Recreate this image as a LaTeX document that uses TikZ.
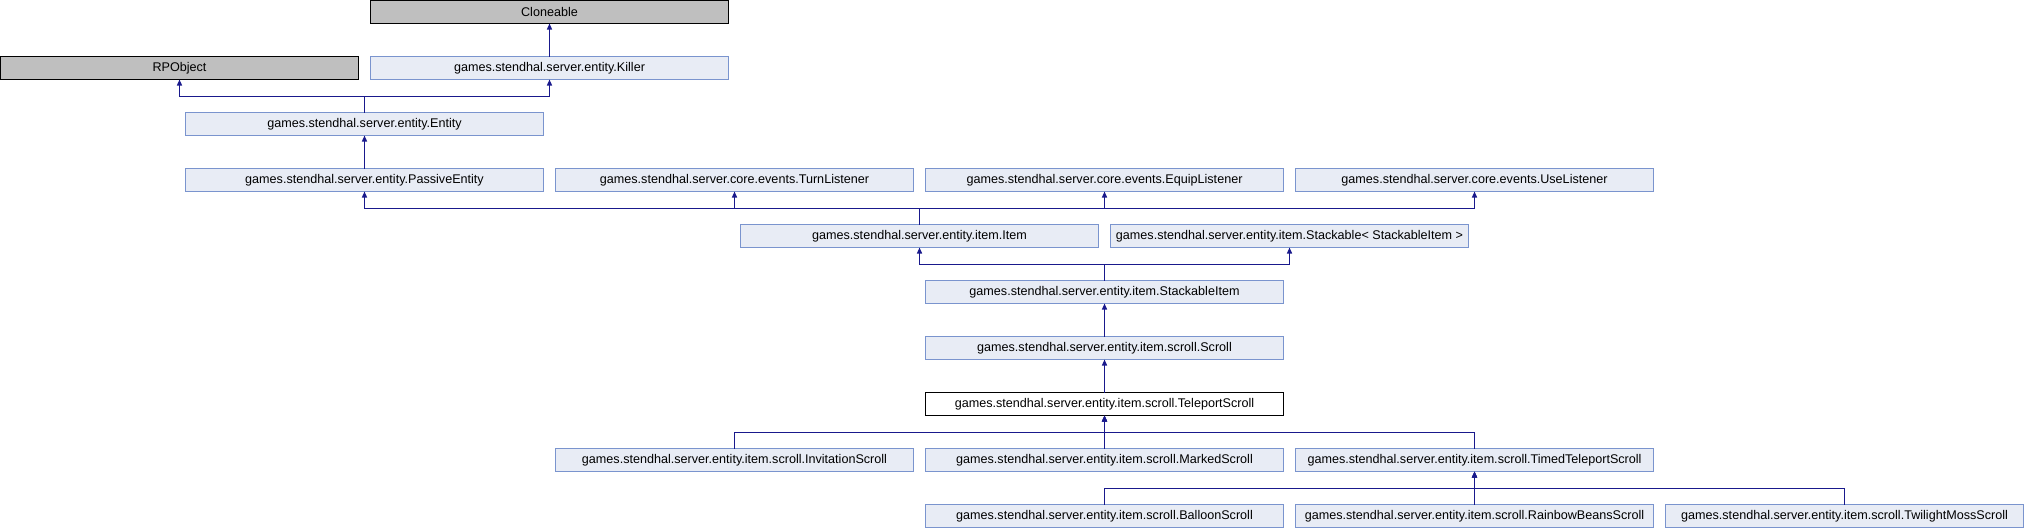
\documentclass[tikz,border=0pt]{standalone}
\usepackage{fontspec}
\setmainfont{Liberation Sans}
\usetikzlibrary{arrows.meta}
\definecolor{edgeblue}{RGB}{25,25,140}
\definecolor{boxborder}{RGB}{122,148,206}
\definecolor{boxfill}{RGB}{232,236,245}
\definecolor{extgray}{RGB}{191,191,191}
\begin{document}
\begin{tikzpicture}[x=1pt,y=-1pt,
  cls/.style={draw=boxborder, fill=boxfill, line width=1pt, minimum width=358pt, minimum height=23pt, inner sep=0pt, outer sep=0pt, font=\fontsize{12.6}{15}\selectfont},
  ext/.style={cls, draw=black, fill=extgray},
  cur/.style={cls, draw=black, fill=white},
  inh/.style={draw=edgeblue, line width=1.3pt, -{Triangle[length=6pt,width=5pt]}}
]
\useasboundingbox (0,0) rectangle (2025,528);
% centres: x = 185k + 179.5, y = 56r + 12
\node[ext] (clone) at (549.5,12) {Cloneable};
\node[ext] (rpo)   at (179.5,68) {RPObject};
\node[cls] (killer) at (549.5,68) {games.stendhal.server.entity.Killer};
\node[cls] (entity) at (364.5,124) {games.stendhal.server.entity.Entity};
\node[cls] (passive) at (364.5,180) {games.stendhal.server.entity.PassiveEntity};
\node[cls] (turn) at (734.5,180) {games.stendhal.server.core.events.TurnListener};
\node[cls] (equip) at (1104.5,180) {games.stendhal.server.core.events.EquipListener};
\node[cls] (use) at (1474.5,180) {games.stendhal.server.core.events.UseListener};
\node[cls] (item) at (919.5,236) {games.stendhal.server.entity.item.Item};
\node[cls] (stackable) at (1289.5,236) {games.stendhal.server.entity.item.Stackable< StackableItem >};
\node[cls] (sitem) at (1104.5,292) {games.stendhal.server.entity.item.StackableItem};
\node[cls] (scroll) at (1104.5,348) {games.stendhal.server.entity.item.scroll.Scroll};
\node[cur] (tele) at (1104.5,404) {games.stendhal.server.entity.item.scroll.TeleportScroll};
\node[cls] (invit) at (734.5,460) {games.stendhal.server.entity.item.scroll.InvitationScroll};
\node[cls] (marked) at (1104.5,460) {games.stendhal.server.entity.item.scroll.MarkedScroll};
\node[cls] (timed) at (1474.5,460) {games.stendhal.server.entity.item.scroll.TimedTeleportScroll};
\node[cls] (balloon) at (1104.5,516) {games.stendhal.server.entity.item.scroll.BalloonScroll};
\node[cls] (rainbow) at (1474.5,516) {games.stendhal.server.entity.item.scroll.RainbowBeansScroll};
\node[cls] (twilight) at (1844.5,516) {games.stendhal.server.entity.item.scroll.TwilightMossScroll};
% edges
\draw[inh] (killer.north) -- (clone.south);
\draw[inh] (entity.north) -- ++(0,-16) -| (rpo.south);
\draw[inh] (entity.north) -- ++(0,-16) -| (killer.south);
\draw[inh] (passive.north) -- (entity.south);
\draw[inh] (item.north) -- ++(0,-16) -| (passive.south);
\draw[inh] (item.north) -- ++(0,-16) -| (turn.south);
\draw[inh] (item.north) -- ++(0,-16) -| (equip.south);
\draw[inh] (item.north) -- ++(0,-16) -| (use.south);
\draw[inh] (sitem.north) -- ++(0,-16) -| (item.south);
\draw[inh] (sitem.north) -- ++(0,-16) -| (stackable.south);
\draw[inh] (scroll.north) -- (sitem.south);
\draw[inh] (tele.north) -- (scroll.south);
\draw[inh] (invit.north) -- ++(0,-16) -| (tele.south);
\draw[inh] (marked.north) -- (tele.south);
\draw[inh] (timed.north) -- ++(0,-16) -| (tele.south);
\draw[inh] (balloon.north) -- ++(0,-16) -| (timed.south);
\draw[inh] (rainbow.north) -- (timed.south);
\draw[inh] (twilight.north) -- ++(0,-16) -| (timed.south);
\end{tikzpicture}
\end{document}
